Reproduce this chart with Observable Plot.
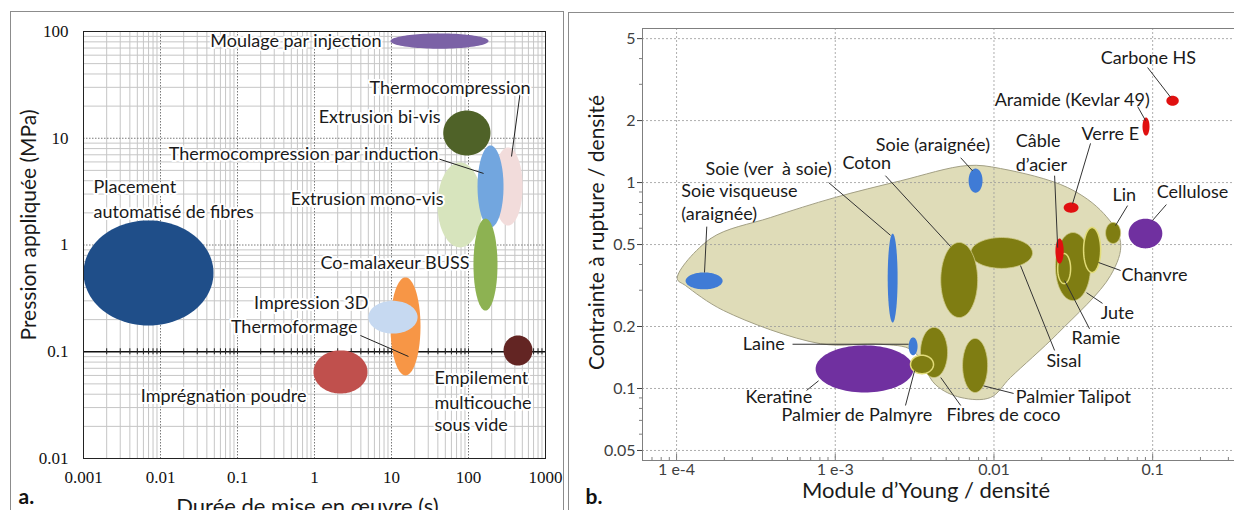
<!DOCTYPE html>
<html><head><meta charset="utf-8">
<script src="https://cdn.jsdelivr.net/npm/d3@7"></script>
<script src="https://cdn.jsdelivr.net/npm/@observablehq/plot@0.6"></script>
<style>
html,body{margin:0;padding:0;background:#fff;overflow:hidden;width:1234px;height:510px;}
#wrap{position:relative;width:1234px;height:510px;overflow:hidden;background:#fff;}
.panel{position:absolute;top:0;}
.panel svg{max-width:none !important;}
.box{position:absolute;border:1px solid #8c8c8c;pointer-events:none;}
</style></head><body><div id="wrap">
<div id="pa" class="panel" style="left:0;width:565px"></div>
<div id="pb" class="panel" style="left:565px;width:700px"></div>
<div class="box" style="left:10px;top:11px;width:552px;height:520px"></div>
<div class="box" style="left:568px;top:12px;width:700px;height:520px"></div>
</div>
<script>
// ---------------- Panel a data ----------------
const xTicksA = [0.001, 0.01, 0.1, 1, 10, 100, 1000];
const xTickLabelsA = ["0.001", "0.01", "0.1", "1", "10", "100", "1000"];
const yTicksA = [0.01, 0.1, 1, 10, 100];
const yTickLabelsA = ["0.01", "0.1", "1", "10", "100"];

const procNames = ["Moulage par injection", "Placement automatisé de fibres", "Thermocompression", "Extrusion mono-vis",
  "Thermocompression par induction", "Co-malaxeur BUSS", "Extrusion bi-vis", "Thermoformage", "Impression 3D",
  "Imprégnation poudre", "Empilement multicouche sous vide"];
const procDurMin = [9.7, 0.001, 211, 39.6, 131, 116, 47, 9.7, 5.0, 0.97, 285];
const procDurMax = [182, 0.0488, 504, 152, 285, 238, 193, 23.8, 21.8, 4.88, 678];
const procPresMin = [69, 0.176, 1.52, 0.95, 1.46, 0.243, 6.9, 0.060, 0.148, 0.0406, 0.0743];
const procPresMax = [96, 1.70, 8.2, 5.93, 8.55, 1.77, 18.2, 0.497, 0.30, 0.103, 0.142];
const procColors = ["#7b62a6", "#1f4e89", "#f2dcdb", "#d7e4bd", "#72a6df", "#8db252", "#4f6228", "#f79646", "#c6d9f1", "#c0504d", "#632523"];

const labelA_text = ["Moulage par injection", "Thermocompression", "Extrusion bi-vis", "Thermocompression par induction",
  "Placement", "automatisé de fibres", "Extrusion mono-vis", "Co-malaxeur BUSS", "Impression 3D", "Thermoformage",
  "Imprégnation poudre", "Empilement", "multicouche", "sous vide"];
const labelA_x = [7.41, 638, 43.3, 40.8, 0.00135, 0.00135, 47.3, 103, 5.02, 3.62, 0.787, 36.2, 36.2, 36.2];
const labelA_y = [80.6, 29.2, 15.6, 7.04, 3.46, 2.02, 2.67, 0.671, 0.283, 0.169, 0.0381, 0.0561, 0.0327, 0.0204];
const labelA_anchor = ["end", "end", "end", "end", "start", "start", "end", "end", "end", "end", "end", "start", "start", "start"];

const leaderA_x1 = [39.5, 483, 3.95];
const leaderA_y1 = [6.46, 31.2, 0.142];
const leaderA_x2 = [157, 362, 16.6];
const leaderA_y2 = [4.68, 6.75, 0.0903];

// ---------------- Panel b data ----------------
const xTicksB = [1e-4, 1e-3, 0.01, 0.1];
const xTickLabelsB = ["1 e-4", "1 e-3", "0.01", "0.1"];
const yTicksB = [0.05, 0.1, 0.2, 0.5, 1, 2, 5];
const yTickLabelsB = ["0.05", "0.1", "0.2", "0.5", "1", "2", "5"];

const envX = [1.01e-4, 1.64e-4, 3.9e-4, 9.9e-4, 2.58e-3, 6.8e-3, 0.0110, 0.0291, 0.0491, 0.0628, 0.0543, 0.0252, 0.0127, 9.5e-3, 6.2e-3, 4.3e-3, 3.07e-3, 1.93e-3, 8.07e-4, 1.98e-4, 1.14e-4];
const envY = [0.342, 0.535, 0.676, 0.845, 1.02, 1.21, 1.17, 0.946, 0.708, 0.512, 0.354, 0.185, 0.113, 0.0904, 0.0904, 0.104, 0.153, 0.164, 0.165, 0.239, 0.316];

const fibreNames = ["Keratine", "Soie visqueuse (araignée)", "Soie (ver à soie)", "Soie (araignée)", "Laine", "Sisal", "Coton",
  "Fibres de coco", "Palmier de Palmyre", "Palmier Talipot", "Jute", "Ramie", "Chanvre", "Lin", "Câble d’acier", "Verre E",
  "Aramide (Kevlar 49)", "Carbone HS", "Cellulose"];
const fibreModMin = [7.52e-4, 1.14e-4, 2.14e-3, 6.92e-3, 2.90e-3, 7.13e-3, 4.62e-3, 3.44e-3, 2.98e-3, 6.34e-3, 0.0244, 0.0252, 0.0367, 0.0505, 0.0244, 0.0275, 0.0863, 0.122, 0.0705];
const fibreModMax = [3.11e-3, 1.95e-4, 2.47e-3, 8.47e-3, 3.30e-3, 0.0175, 7.89e-3, 5.10e-3, 4.16e-3, 9.12e-3, 0.0406, 0.0304, 0.0470, 0.0628, 0.0275, 0.0341, 0.0955, 0.146, 0.115];
const fibreStrMin = [0.0956, 0.303, 0.209, 0.893, 0.145, 0.383, 0.221, 0.113, 0.118, 0.0956, 0.267, 0.323, 0.366, 0.506, 0.404, 0.714, 1.69, 2.36, 0.479];
const fibreStrMax = [0.162, 0.366, 0.565, 1.17, 0.177, 0.541, 0.512, 0.198, 0.145, 0.175, 0.572, 0.452, 0.605, 0.640, 0.535, 0.800, 2.07, 2.64, 0.668];
const fibreKind = ["purple", "blue", "blue", "blue", "blue", "olive", "olive", "olive", "olive", "olive", "olive", "olive", "olive", "olive", "red", "red", "red", "red", "purple"];
const kindColors = {purple: "#7030a0", blue: "#3f7bd6", olive: "#7f7d12", red: "#e01010"};

const labelB_text = ["Carbone HS", "Aramide (Kevlar 49)", "Câble", "d’acier", "Verre E", "Lin", "Cellulose", "Chanvre", "Jute",
  "Ramie", "Sisal", "Palmier Talipot", "Fibres de coco", "Palmier de Palmyre", "Keratine", "Laine", "Soie visqueuse",
  "(araignée)", "Soie (ver  à soie)", "Coton", "Soie (araignée)"];
const labelB_x = [0.0470, 0.0101, 0.0137, 0.0137, 0.0356, 0.0558, 0.106, 0.0637, 0.0470, 0.0308, 0.0214, 0.0137, 0.00502,
  0.000459, 0.000272, 0.000261, 0.000107, 0.000107, 0.000152, 0.00111, 0.00180];
const labelB_y = [4.0, 2.50, 1.58, 1.21, 1.71, 0.865, 0.893, 0.354, 0.231, 0.175, 0.135, 0.0904, 0.0740, 0.0740, 0.0904,
  0.164, 0.904, 0.700, 1.16, 1.24, 1.51];

const leaderB_x1 = [0.0929, 0.0804, 0.0241, 0.0406, 0.0695, 0.122, 0.0628, 0.0483, 0.0400, 0.0241, 0.0133, 0.00617, 0.00277, 0.000659, 0.000538, 0.000155, 0.000908, 0.00207, 0.00617];
const leaderB_y1 = [3.62, 2.34, 1.08, 1.55, 0.773, 0.782, 0.374, 0.259, 0.195, 0.153, 0.0946, 0.0827, 0.0827, 0.0978, 0.164, 0.611, 1.0, 1.08, 1.32];
const leaderB_x2 = [0.130, 0.0902, 0.0252, 0.0313, 0.0583, 0.0998, 0.0456, 0.0383, 0.0279, 0.0147, 0.00859, 0.00462, 0.00316, 0.000785, 0.00290, 0.000150, 0.00223, 0.00533, 0.00733];
const leaderB_y2 = [2.59, 2.00, 0.483, 0.791, 0.618, 0.655, 0.409, 0.292, 0.334, 0.395, 0.103, 0.113, 0.122, 0.109, 0.164, 0.366, 0.554, 0.489, 1.14];

// ---------------- helpers ----------------
function ellipsePts(x1, x2, y1, y2) {
  const lx1 = Math.log10(x1), lx2 = Math.log10(x2), ly1 = Math.log10(y1), ly2 = Math.log10(y2);
  const cx = (lx1 + lx2) / 2, rx = (lx2 - lx1) / 2, cy = (ly1 + ly2) / 2, ry = (ly2 - ly1) / 2;
  return d3.range(96).map(i => {
    const t = i / 96 * 2 * Math.PI;
    return {x: Math.pow(10, cx + rx * Math.cos(t)), y: Math.pow(10, cy + ry * Math.sin(t))};
  });
}
function decadeMultiples(lo, hi, ks) {
  const out = [];
  for (let e = lo; e <= hi; e++) for (const k of ks) out.push(k * Math.pow(10, e));
  return out;
}
const SANS = "Lato, 'Noto Sans', sans-serif";
const LABEL_SIZE = 18;

// ---------------- Panel a ----------------
const minorXA = decadeMultiples(-3, 2, [2, 3, 4, 5, 6, 7, 8, 9]);
const minorYA = decadeMultiples(-2, 1, [2, 3, 4, 5, 6, 7, 8, 9]);
const ellMarksA = procNames.map((n, i) =>
  Plot.line(ellipsePts(procDurMin[i], procDurMax[i], procPresMin[i], procPresMax[i]),
    {x: "x", y: "y", fill: procColors[i], stroke: "none", curve: "linear-closed"}));
const labelsA = labelA_text.map((t, i) => ({t, x: labelA_x[i], y: labelA_y[i], a: labelA_anchor[i]}));
const leadersA = leaderA_x1.map((v, i) => ({x1: v, y1: leaderA_y1[i], x2: leaderA_x2[i], y2: leaderA_y2[i]}));
const textOptsA = {x: "x", y: "y", text: "t", fontFamily: SANS, fontSize: LABEL_SIZE, fill: "#1a1a1a", stroke: "white", strokeWidth: 4};

const plotA = Plot.plot({
  width: 565, height: 510,
  marginLeft: 83, marginRight: 20, marginTop: 31, marginBottom: 52,
  style: {background: "transparent", overflow: "visible", maxWidth: "none"},
  x: {type: "log", domain: [0.001, 1000]},
  y: {type: "log", domain: [0.01, 100]},
  marks: [
    Plot.ruleX(minorXA, {stroke: "#c6c6c6", strokeWidth: 1}),
    Plot.ruleY(minorYA, {stroke: "#c6c6c6", strokeWidth: 1}),
    Plot.ruleX([0.01, 0.1, 1, 10, 100], {stroke: "#7a7a7a", strokeDasharray: "1.5,1.5"}),
    Plot.ruleY([1, 10], {stroke: "#7a7a7a", strokeDasharray: "1.5,1.5"}),
    Plot.ruleY([0.1], {stroke: "#111", strokeWidth: 1.5}),
    Plot.ruleX(minorXA.concat([0.01, 0.1, 1, 10, 100]), {y1: 0.1, y2: 0.1, insetTop: -3, insetBottom: -3, stroke: "#222"}),
    ...ellMarksA,
    Plot.frame({stroke: "#222"}),
    Plot.axisX(xTicksA, {tickSize: 0, tickPadding: 12, tickFormat: d => xTickLabelsA[xTicksA.indexOf(d)],
      fontFamily: "'Liberation Serif', serif", fontSize: 17, color: "#111", label: null}),
    Plot.axisY(yTicksA, {tickSize: 0, tickPadding: 15, tickFormat: d => yTickLabelsA[yTicksA.indexOf(d)],
      fontFamily: "'Liberation Serif', serif", fontSize: 17, color: "#111", label: null}),
    Plot.link(leadersA, {x1: "x1", y1: "y1", x2: "x2", y2: "y2", stroke: "#222", strokeWidth: 1}),
    Plot.text(labelsA.filter(d => d.a === "end"), {...textOptsA, textAnchor: "end"}),
    Plot.text(labelsA.filter(d => d.a === "start"), {...textOptsA, textAnchor: "start"}),
    Plot.text(["Durée de mise en œuvre (s)"], {frameAnchor: "bottom", dy: 55, dx: -7, fontFamily: SANS, fontSize: 22, fill: "#1a1a1a"}),
    Plot.text(["Pression appliquée (MPa)"], {frameAnchor: "left", textAnchor: "middle", dx: -54, dy: -20, rotate: -90, fontFamily: SANS, fontSize: 21, fill: "#1a1a1a"}),
    Plot.text(["a."], {frameAnchor: "bottom-left", dx: -65, dy: 45, textAnchor: "start", fontFamily: SANS, fontWeight: "bold", fontSize: 21, fill: "#111"})
  ]
});
document.getElementById("pa").appendChild(plotA);

// ---------------- Panel b ----------------
const minorXB = decadeMultiples(-5, -1, [2, 3, 4, 5, 6, 7, 8, 9]).filter(v => v > 6.1e-5 && v < 0.514);
const minorYB = [0.06, 0.07, 0.08, 0.09, 0.3, 0.4, 0.6, 0.7, 0.8, 0.9, 3, 4];
const envelope = envX.map((v, i) => ({x: v, y: envY[i]}));
const ellMarksB = fibreNames.map((n, i) => {
  const kind = fibreKind[i];
  const outlined = (n === "Ramie" || n === "Chanvre" || n === "Palmier de Palmyre");
  return Plot.line(ellipsePts(fibreModMin[i], fibreModMax[i], fibreStrMin[i], fibreStrMax[i]),
    {x: "x", y: "y", fill: kindColors[kind], curve: "linear-closed",
     stroke: kind === "olive" ? (outlined ? "#e2dc78" : "#cfca86") : "none", strokeWidth: outlined ? 1.5 : 0.8});
});
const labelsB = labelB_text.map((t, i) => ({t, x: labelB_x[i], y: labelB_y[i]}));
const leadersB = leaderB_x1.map((v, i) => ({x1: v, y1: leaderB_y1[i], x2: leaderB_x2[i], y2: leaderB_y2[i]}));

const plotB = Plot.plot({
  width: 700, height: 510,
  marginLeft: 77, marginRight: 0, marginTop: 28, marginBottom: 50,
  style: {background: "transparent", overflow: "visible", maxWidth: "none"},
  x: {type: "log", domain: [6.1e-5, 0.514]},
  y: {type: "log", domain: [0.0447, 5.6]},
  marks: [
    Plot.line(envelope, {x: "x", y: "y", curve: "catmull-rom-closed", fill: "#dfdcb8", stroke: "#a3a085", strokeWidth: 1}),
    Plot.ruleX(xTicksB, {stroke: "#9a9a9a", strokeDasharray: "2,2", strokeOpacity: 0.8}),
    Plot.ruleY(yTicksB, {stroke: "#9a9a9a", strokeDasharray: "2,2", strokeOpacity: 0.8}),
    ...ellMarksB,
    Plot.frame({stroke: "#7f7f7f"}),
    Plot.ruleX(xTicksB, {insetTop: 426, stroke: "#7f7f7f"}),
    Plot.ruleX(minorXB, {insetTop: 429, stroke: "#7f7f7f"}),
    Plot.axisY(minorYB, {tickSize: 3, tickFormat: () => "", color: "#7f7f7f", label: null}),
    Plot.axisY(yTicksB, {tickSize: 5, tickPadding: 2, tickFormat: d => yTickLabelsB[yTicksB.indexOf(d)],
      fontFamily: SANS, fontSize: 16, color: "#404040", label: null}),
    Plot.axisX(xTicksB, {tickSize: 0, tickPadding: 3, tickFormat: d => xTickLabelsB[xTicksB.indexOf(d)],
      fontFamily: SANS, fontSize: 16, color: "#404040", label: null}),
    Plot.link(leadersB, {x1: "x1", y1: "y1", x2: "x2", y2: "y2", stroke: "#333", strokeWidth: 1}),
    Plot.text(labelsB, {x: "x", y: "y", text: "t", textAnchor: "start", fontFamily: SANS, fontSize: LABEL_SIZE, fill: "#1a1a1a"}),
    Plot.text(["Module d’Young / densité"], {frameAnchor: "bottom", dy: 37, dx: -28, fontFamily: SANS, fontSize: 22, fill: "#1a1a1a"}),
    Plot.text(["Contrainte à rupture / densité"], {frameAnchor: "left", textAnchor: "middle", dx: -45, dy: -12, rotate: -90, fontFamily: SANS, fontSize: 21, fill: "#1a1a1a"}),
    Plot.text(["b."], {frameAnchor: "bottom-left", dx: -57, dy: 43, textAnchor: "start", fontFamily: SANS, fontWeight: "bold", fontSize: 21, fill: "#111"})
  ]
});
document.getElementById("pb").appendChild(plotB);
</script>
</body></html>
